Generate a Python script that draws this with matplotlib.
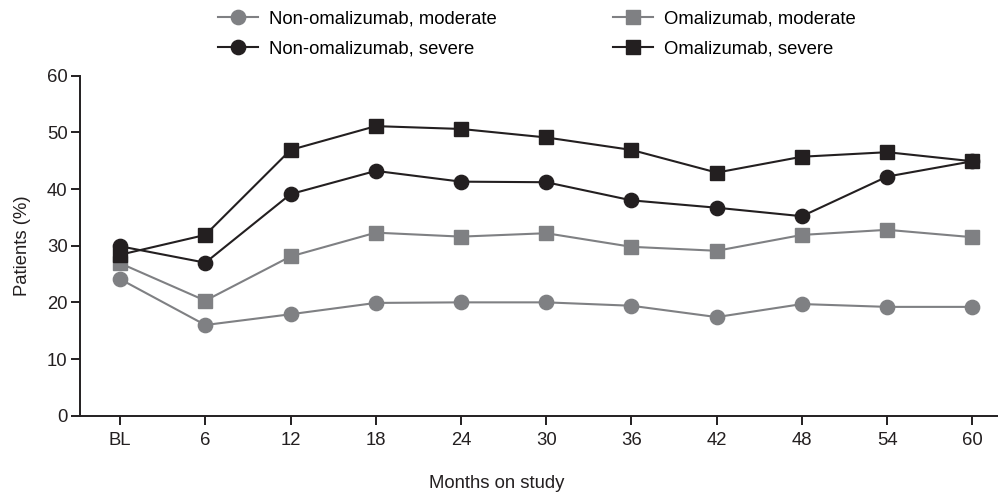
import matplotlib
matplotlib.use('Agg')

import matplotlib.pyplot as plt
import numpy as np

plt.rcParams['font.family'] = ['Liberation Sans', 'DejaVu Sans']

# data
months = ['BL', '6', '12', '18', '24', '30', '36', '42', '48', '54', '60']
non_oma_moderate = [24.1, 16.0, 17.9, 19.9, 20.0, 20.0, 19.4, 17.4, 19.7, 19.2, 19.2]
oma_moderate = [26.9, 20.3, 28.1, 32.3, 31.6, 32.2, 29.8, 29.1, 31.9, 32.8, 31.5]
non_oma_severe = [29.9, 27.0, 39.1, 43.2, 41.3, 41.2, 38.0, 36.7, 35.2, 42.2, 44.9]
oma_severe = [28.4, 31.9, 46.9, 51.1, 50.6, 49.1, 46.9, 42.9, 45.7, 46.5, 44.9]

gray = '#7f8083'
black = '#231f20'

fig = plt.figure(figsize=(9.98, 4.98), dpi=100)
ax = fig.add_axes([0.0802, 0.1653, 0.9198, 0.6827])

x = np.arange(len(months))

l1, = ax.plot(x, non_oma_moderate, color=gray, lw=1.5, marker='o', ms=10.3,
              label='Non-omalizumab, moderate')
l3, = ax.plot(x, oma_moderate, color=gray, lw=1.5, marker='s', ms=9.6,
              label='Omalizumab, moderate')
l2, = ax.plot(x, non_oma_severe, color=black, lw=1.5, marker='o', ms=10.3,
              label='Non-omalizumab, severe')
l4, = ax.plot(x, oma_severe, color=black, lw=1.5, marker='s', ms=9.6,
              label='Omalizumab, severe')

ax.set_xlim(-0.47, 10.3)
ax.set_ylim(0, 60)
ax.set_xticks(x)
ax.set_xticklabels(months)
ax.set_yticks(np.arange(0, 61, 10))

for side in ['top', 'right']:
    ax.spines[side].set_visible(False)
for side in ['left', 'bottom']:
    ax.spines[side].set_color(black)
    ax.spines[side].set_linewidth(1.4)

ax.tick_params(axis='both', colors=black, width=1.4, length=6.5,
               labelsize=13.3, labelcolor=black)
ax.tick_params(axis='x', pad=5)
ax.tick_params(axis='y', pad=2.5)

ax.set_ylabel('Patients (%)', fontsize=13.3, color=black, labelpad=11.5)
ax.set_xlabel('Months on study', fontsize=13.3, color=black)
ax.xaxis.set_label_coords(0.454, -0.175)

fig.legend(handles=[l1, l2, l3, l4], ncol=2, loc='center',
           bbox_to_anchor=(0.538, 0.931), frameon=False, fontsize=13.3,
           handlelength=2.2, handletextpad=0.6, columnspacing=6.25,
           labelspacing=0.71, borderpad=0)

fig.savefig('out.png', dpi=100)
